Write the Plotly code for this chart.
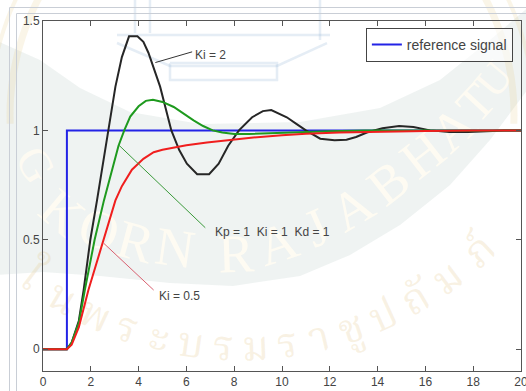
import math
import plotly.graph_objects as go

# ---------------- step responses (time in s, output) ----------------
t_ref = [0, 1, 1, 20]
y_ref = [0, 0, 1, 1]

# Ki = 2
t_ki2 = [0, 1, 1.2, 1.5, 1.7, 1.98, 2.26, 2.5, 2.7, 3.03, 3.3, 3.6, 3.95, 4.2,
         4.41, 4.9, 5.37, 5.7, 6.02, 6.45, 6.95, 7.35, 7.75, 8.2, 8.75, 9.2,
         9.55, 10.2, 10.6, 11.0, 11.6, 12.2, 12.7, 13.1, 13.55, 14.2, 14.9,
         15.5, 16.2, 17.0, 17.8, 18.6, 19.3, 20]
y_ki2 = [0, 0, 0.03, 0.13, 0.27, 0.5, 0.68, 0.84, 0.99, 1.2, 1.335, 1.43, 1.43,
         1.405, 1.355, 1.2, 1.0, 0.91, 0.848, 0.80, 0.80, 0.848, 0.93, 1.0,
         1.06, 1.088, 1.093, 1.06, 1.03, 1.0, 0.962, 0.955, 0.957, 0.97, 0.99,
         1.01, 1.02, 1.015, 1.0, 0.993, 0.993, 0.997, 1.0, 1.0]

# Kp = 1, Ki = 1, Kd = 1
t_pid = [0, 1, 1.2, 1.5, 1.75, 2.16, 2.55, 3.0, 3.16, 3.4, 3.65, 4.0, 4.3, 4.6,
         5.0, 5.47, 5.9, 6.3, 6.7, 7.1, 7.5, 8.0, 8.6, 9.5, 10.5, 12, 13.5, 15,
         17, 20]
y_pid = [0, 0, 0.03, 0.12, 0.27, 0.5, 0.68, 0.87, 0.93, 1.0, 1.063, 1.11,
         1.135, 1.14, 1.13, 1.107, 1.075, 1.046, 1.02, 1.0, 0.99, 0.984, 0.984,
         0.988, 0.992, 0.996, 0.999, 1.0, 1.0, 1.0]

# Ki = 0.5
t_ki05 = [0, 1, 1.2, 1.5, 1.9, 2.2, 2.54, 2.8, 3.03, 3.3, 3.72, 4.2, 4.63, 5.0,
          5.47, 6.0, 6.86, 7.8, 8.8, 10, 11, 12.4, 14, 16, 18, 20]
y_ki05 = [0, 0, 0.02, 0.1, 0.27, 0.38, 0.5, 0.6, 0.68, 0.745, 0.82, 0.87, 0.90,
          0.911, 0.922, 0.932, 0.945, 0.957, 0.967, 0.978, 0.985, 0.99, 0.994,
          0.997, 0.999, 1.0]

x_ticks = list(range(0, 21, 2))
y_ticks = [0, 0.5, 1, 1.5]
y_tick_text = ["0", "0.5", "1", "1.5"]
x_range = [0, 20]
y_range = [-0.1, 1.5]

# ---------------- page geometry ----------------
W, H = 526, 391
ML, MR, MT, MB = 43, 5, 21, 20
PW, PH = W - ML - MR, H - MT - MB
FONT = "Liberation Sans, Arial, sans-serif"


def paper(x, y):
    return (x - ML) / PW, (H - MB - y) / PH


def px_path(points, close=False):
    parts = []
    for i, (x, y) in enumerate(points):
        u, v = paper(x, y)
        parts.append(("M" if i == 0 else "L") + f"{u:.4f},{v:.4f}")
    return " ".join(parts) + (" Z" if close else "")


def glyph(ch, x, y, ang, family, size, color):
    """A single rotated character drawn in the background layer."""
    u, v = paper(x, y)
    return dict(type="rect", xref="paper", yref="paper", layer="below",
                x0=u - 0.001, x1=u + 0.001, y0=v - 0.001, y1=v + 0.001,
                line=dict(width=0), fillcolor="rgba(0,0,0,0)",
                label=dict(text=ch, textangle=ang, textposition="middle center",
                           padding=0, font=dict(family=family, size=size, color=color)))


shapes = []

# faint seal in the background
band_outer = [(-5, 275), (43, 272), (100, 276), (170, 283), (233, 286),
              (300, 276), (350, 255), (400, 225), (450, 185), (490, 140),
              (531, 85)]
band_inner = [(531, 5), (490, 40), (440, 80), (380, 108), (300, 122),
              (200, 124), (130, 112), (80, 88), (40, 60), (-5, 40)]
shapes.append(dict(type="path", xref="paper", yref="paper", layer="below",
                   path=px_path(band_outer + band_inner, close=True),
                   fillcolor="rgba(40,95,85,0.075)", line=dict(width=0)))

cx, cy = 262, 115
for r, wd in [(252, 7), (272, 4)]:
    for a0, a1 in [(178, 250), (292, 362)]:
        pts = [(cx + r * math.cos(math.radians(a)), cy + r * math.sin(math.radians(a)))
               for a in range(a0, a1 + 1, 2)]
        shapes.append(dict(type="path", xref="paper", yref="paper", layer="below",
                           path=px_path(pts), fillcolor="rgba(0,0,0,0)",
                           line=dict(color="rgba(230,205,140,0.2)", width=wd)))

bld = "rgba(150,185,215,0.25)"
for seg in [[(117, 35), (330, 35)],
            [(117, 43), (170, 66), (277, 66), (327, 43)],
            [(170, 63), (277, 63), (277, 80), (170, 80), (170, 63)],
            [(135, 0), (135, 33)], [(150, 0), (150, 33)],
            [(320, 0), (320, 40)]]:
    shapes.append(dict(type="path", xref="paper", yref="paper", layer="below",
                       path=px_path(seg), fillcolor="rgba(0,0,0,0)",
                       line=dict(color=bld, width=2.5)))

seal_letters = [("G", 40, 162, 59, 46), ("K", 66, 208, 40, 54), ("O", 101, 224, 17, 54),
                ("R", 137, 236, 15, 54), ("N", 176, 242, 8, 54), ("R", 236, 248, -2, 54),
                ("A", 276, 238, -18, 54), ("J", 314, 222, -24, 54), ("A", 349, 203, -31, 54),
                ("B", 385, 178, -38, 54), ("H", 419, 150, -38, 54), ("A", 449, 124, -42, 54),
                ("T", 472, 99, -47, 50), ("U", 490, 76, -50, 44)]
for ch, x, y, ang, fs in seal_letters:
    shapes.append(glyph(ch, x, y, ang, "Liberation Serif, serif", fs,
                        "rgba(255,252,242,0.9)"))

thai = ["ใ", "น", "พ", "ร", "ะ", "บ", "ร", "ม", "ร", "า", "ชู", "ป", "ถั", "ม", "ภ์"]
tcx, tcy, tr = 240, 0, 352
for i, ch in enumerate(thai):
    x = 28 + i * 32.5
    root = math.sqrt(tr ** 2 - (x - tcx) ** 2)
    ang = math.degrees(math.atan(-(x - tcx) / root))
    shapes.append(glyph(ch, x, tcy + root, ang, "Noto Serif Thai, Noto Sans Thai, serif",
                        42, "rgba(225,195,130,0.22)"))

# window frame lines
frame = "#c9ced6"
for seg in [[(9.5, 391), (9.5, 7.5), (526, 7.5)],
            [(16.5, 391), (16.5, 13.5), (526, 13.5)]]:
    shapes.append(dict(type="path", xref="paper", yref="paper", layer="below",
                       path=px_path(seg), fillcolor="rgba(0,0,0,0)",
                       line=dict(color=frame, width=1)))

# leader lines of the curve labels (data coordinates)
for (x0, y0, x1, y1, col) in [(4.70, 1.31, 6.24, 1.359, "#333333"),
                              (3.16, 0.934, 6.79, 0.555, "#3a9a3a"),
                              (2.54, 0.484, 4.63, 0.27, "#d86070")]:
    shapes.append(dict(type="line", xref="x", yref="y", x0=x0, y0=y0, x1=x1, y1=y1,
                       line=dict(color=col, width=1), layer="above"))

annotations = [
    dict(x=6.28, y=1.343, text="Ki = 2"),
    dict(x=7.12, y=0.535, text="Kp = 1\u00a0\u00a0Ki = 1\u00a0\u00a0Kd = 1"),
    dict(x=4.76, y=0.244, text="Ki = 0.5"),
]
for a in annotations:
    a.update(xref="x", yref="y", showarrow=False, xanchor="left", yanchor="middle",
             font=dict(family=FONT, size=12, color="#444444"))

fig = go.Figure()
fig.add_trace(go.Scatter(x=t_ref, y=y_ref, mode="lines", name="reference signal",
                         line=dict(color="#2323e6", width=2)))
fig.add_trace(go.Scatter(x=t_ki2, y=y_ki2, mode="lines", name="Ki = 2",
                         showlegend=False, line=dict(color="#262626", width=2)))
fig.add_trace(go.Scatter(x=t_pid, y=y_pid, mode="lines", name="Kp = 1 Ki = 1 Kd = 1",
                         showlegend=False, line=dict(color="#1e9a1e", width=2)))
fig.add_trace(go.Scatter(x=t_ki05, y=y_ki05, mode="lines", name="Ki = 0.5",
                         showlegend=False, line=dict(color="#f01e1e", width=2)))

axis_common = dict(showline=True, linecolor="#555555", linewidth=1, mirror="ticks",
                   ticks="inside", ticklen=5, tickcolor="#555555", tickwidth=1,
                   showgrid=False, zeroline=False, ticklabeloverflow="allow",
                   automargin=False,
                   tickfont=dict(family=FONT, size=12, color="#444444"))

fig.update_layout(
    width=W, height=H,
    margin=dict(l=ML, r=MR, t=MT, b=MB, pad=0, autoexpand=False),
    paper_bgcolor="white", plot_bgcolor="rgba(0,0,0,0)",
    xaxis=dict(range=x_range, tickvals=x_ticks, **axis_common),
    yaxis=dict(range=y_range, tickvals=y_ticks, ticktext=y_tick_text, **axis_common),
    legend=dict(x=0.983, xanchor="right", y=0.98, yanchor="top",
                bgcolor="rgba(255,255,255,0.6)",
                bordercolor="#444444", borderwidth=1,
                font=dict(family=FONT, size=14, color="#444444"),
                itemwidth=30, tracegroupgap=0),
    shapes=shapes,
    annotations=annotations,
)

fig.write_html("out.html")
